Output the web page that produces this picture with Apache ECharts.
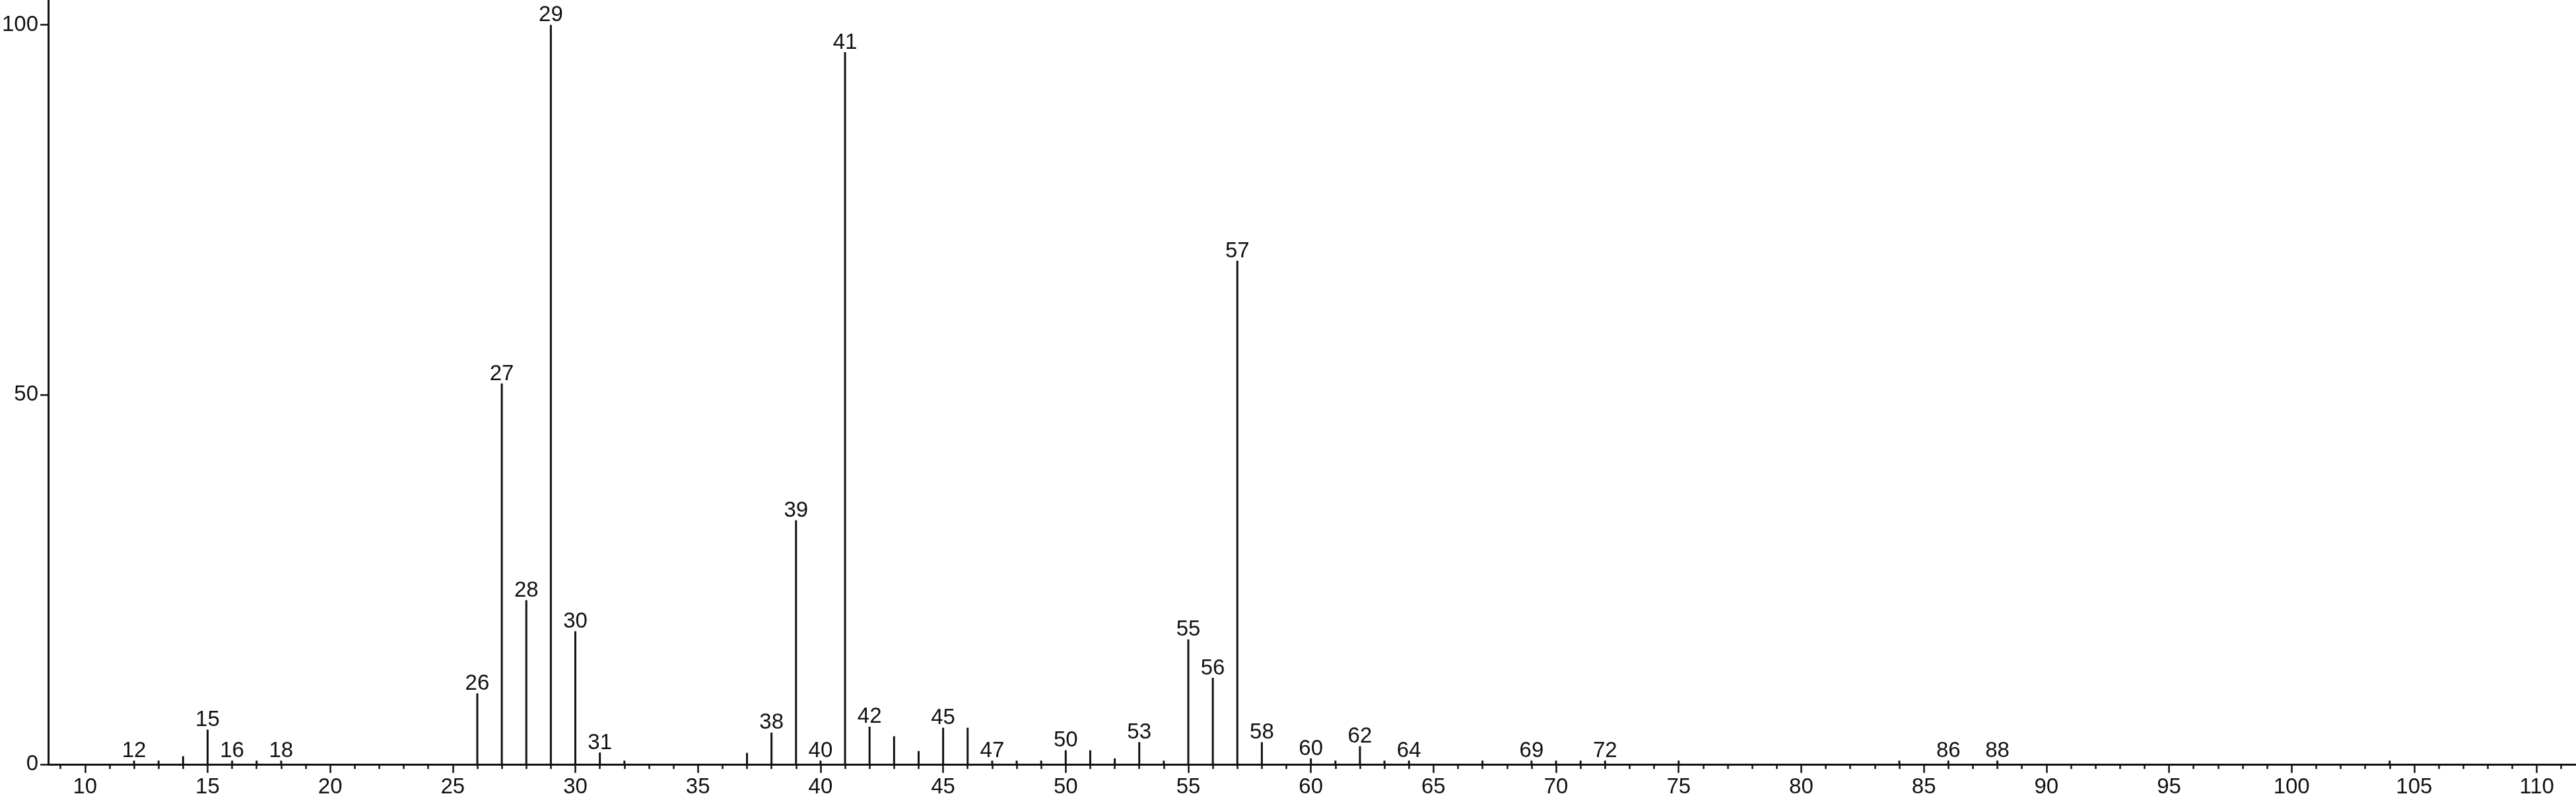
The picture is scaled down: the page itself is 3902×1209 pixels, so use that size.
<!DOCTYPE html>
<html>
<head>
<meta charset="utf-8">
<script src="https://cdn.jsdelivr.net/npm/echarts@6/dist/echarts.min.js"></script>
<style>
html,body{margin:0;padding:0;background:#fff;}
#chart{width:3902px;height:1209px;}
</style>
</head>
<body>
<div id="chart"></div>
<script>
// m/z values and relative intensities
const mz = [12,13,14,15,16,17,18,26,27,28,29,30,31,32,37,38,39,40,41,42,43,44,45,46,47,48,49,50,51,52,53,54,55,56,57,58,60,61,62,63,64,67,69,70,71,72,75,84,86,88,104];
const intensity = [0.5,0.5,1.1,4.7,0.5,0.5,0.5,9.6,51.5,22.2,100,18.0,1.6,0.5,1.55,4.3,33.0,0.5,96.3,5.1,3.8,1.8,4.95,4.95,0.5,0.5,0.5,1.9,1.9,0.8,3.0,0.5,16.9,11.7,68.1,3.0,0.8,0.5,2.45,0.5,0.5,0.5,0.5,0.5,0.5,0.5,0.5,0.5,0.5,0.5,0.5];
// peaks that carry an m/z label
const labeledMz = [12,15,16,18,26,27,28,29,30,31,38,39,40,41,42,45,47,50,53,55,56,57,58,60,62,64,69,72,86,88];
// axis tick labels
const xTickLabels = [10,15,20,25,30,35,40,45,50,55,60,65,70,75,80,85,90,95,100,105,110];
const xMinorTicks = [9,10,11,12,13,14,15,16,17,18,19,20,21,22,23,24,25,26,27,28,29,30,31,32,33,34,35,36,37,38,39,40,41,42,43,44,45,46,47,48,49,50,51,52,53,54,55,56,57,58,59,60,61,62,63,64,65,66,67,68,69,70,71,72,73,74,75,76,77,78,79,80,81,82,83,84,85,86,87,88,89,90,91,92,93,94,95,96,97,98,99,100,101,102,103,104,105,106,107,108,109,110,111];
const yTickLabels = [0,50,100];

const FONT = "'Liberation Sans', Arial, sans-serif";
const INK = '#111';

const seriesData = mz.map((m, i) => ({
  value: [m, intensity[i]],
  label: { show: labeledMz.indexOf(m) >= 0 }
}));

const chart = echarts.init(document.getElementById('chart'), null, {renderer: 'canvas'});
chart.setOption({
  animation: false,
  backgroundColor: '#fff',
  grid: { left: 69, right: 0, top: 0, bottom: 48, containLabel: false },
  xAxis: [
    {
      type: 'value', min: 8.5, max: 111.6, position: 'bottom',
      axisLine: { show: true, onZero: false, lineStyle: { color: INK, width: 3 } },
      axisTick: { show: true, inside: false, length: 13, customValues: xTickLabels, lineStyle: { color: INK, width: 2.5 } },
      axisLabel: { show: true, customValues: xTickLabels, margin: 18, color: INK, fontSize: 33, fontFamily: FONT },
      splitLine: { show: false }
    },
    {
      type: 'value', min: 8.5, max: 111.6, position: 'bottom', offset: 0,
      axisLine: { show: false },
      axisTick: { show: true, inside: false, length: 7, customValues: xMinorTicks, lineStyle: { color: INK, width: 2.5 } },
      axisLabel: { show: false },
      splitLine: { show: false }
    }
  ],
  yAxis: {
    type: 'value', min: 0, max: 103.36,
    axisLine: { show: true, lineStyle: { color: INK, width: 3 } },
    axisTick: { show: true, inside: false, length: 12, customValues: yTickLabels, lineStyle: { color: INK, width: 2.5 } },
    axisLabel: { show: true, customValues: yTickLabels, margin: 15, color: INK, fontSize: 33, fontFamily: FONT },
    splitLine: { show: false }
  },
  series: [{
    type: 'bar',
    xAxisIndex: 0,
    yAxisIndex: 0,
    barWidth: 3,
    itemStyle: { color: INK },
    label: { position: 'top', distance: -2, color: INK, fontSize: 33, fontFamily: FONT,
      formatter: p => String(p.value[0]) },
    data: seriesData
  }]
});
</script>
</body>
</html>
